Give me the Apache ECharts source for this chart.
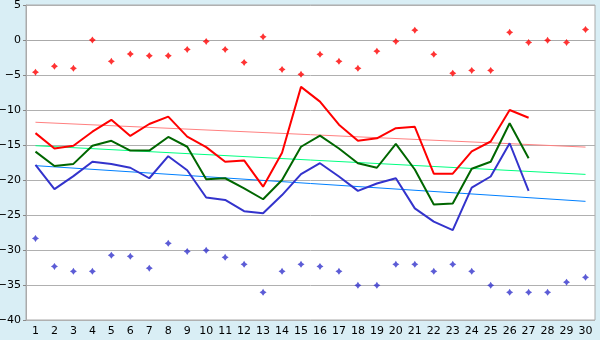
<!DOCTYPE html>
<html>
<head>
<meta charset="utf-8">
<script src="https://cdn.jsdelivr.net/npm/echarts@6/dist/echarts.min.js"></script>
<style>
  html, body { margin: 0; padding: 0; background: #d9eef5; }
  #chart { width: 600px; height: 340px; }
</style>
</head>
<body>
<div id="chart"></div>
<script>
// Day numbers along the x axis
var days = [];
for (var d = 1; d <= 30; d++) days.push(String(d));

// Daily curves (days 1-27)
var redLine = [-13.3, -15.5, -15.1, -13.1, -11.4, -13.7, -12.0, -10.95, -13.8, -15.3,
  -17.4, -17.2, -20.95, -16.1, -6.7, -8.8, -12.1, -14.4, -14.05, -12.6,
  -12.4, -19.1, -19.1, -15.9, -14.5, -10.0, -11.1];
var greenLine = [-15.95, -18.0, -17.7, -15.1, -14.4, -15.8, -15.8, -13.85, -15.25, -19.9,
  -19.75, -21.2, -22.75, -20.0, -15.25, -13.65, -15.5, -17.6, -18.25, -14.85,
  -18.5, -23.5, -23.35, -18.4, -17.4, -11.9, -16.9];
var blueLine = [-17.85, -21.3, -19.45, -17.4, -17.7, -18.25, -19.75, -16.6, -18.6, -22.5,
  -22.85, -24.45, -24.75, -22.15, -19.15, -17.6, -19.5, -21.55, -20.5, -19.75,
  -24.05, -25.95, -27.15, -21.1, -19.5, -14.75, -21.55];

// Scattered daily extremes (days 1-30)
var redPoints = [-4.6, -3.75, -4.05, 0.0, -3.05, -2.0, -2.25, -2.25, -1.35, -0.2,
  -1.35, -3.2, 0.45, -4.2, -4.9, -2.05, -3.05, -4.05, -1.6, -0.2,
  1.4, -2.05, -4.75, -4.35, -4.35, 1.1, -0.35, -0.05, -0.35, 1.5];
var bluePoints = [-28.35, -32.35, -33.05, -33.05, -30.75, -30.9, -32.6, -29.05, -30.2, -30.05,
  -31.05, -32.05, -36.05, -33.05, -32.05, -32.35, -33.05, -35.05, -35.05, -32.05,
  -32.05, -33.05, -32.05, -33.05, -35.05, -36.05, -36.05, -36.05, -34.6, -33.9];

// Trend lines: value at day 1 and at day 30
var redTrend = [-11.75, -15.3];
var greenTrend = [-15.1, -19.2];
var blueTrend = [-17.95, -23.05];

// Y axis ticks
var yMin = -40, yMax = 5, yStep = 5;

// Small four-pointed star used for the scattered points
var starMark = 'path://M3,0 L4.2,1.8 L6,3 L4.2,4.2 L3,6 L1.8,4.2 L0,3 L1.8,1.8 Z';

function trendData(ends) {
  var arr = new Array(days.length).fill(null);
  arr[0] = ends[0];
  arr[days.length - 1] = ends[1];
  return arr;
}

function lineSeries(data, color, width, z) {
  return {
    type: 'line', data: data, symbol: 'none', connectNulls: true, z: z,
    lineStyle: { color: color, width: width }, animation: false, silent: true
  };
}

function pointSeries(data, color) {
  return {
    type: 'scatter', data: data, symbol: starMark, symbolSize: 7, z: 5,
    itemStyle: { color: color }, animation: false, silent: true
  };
}

var chart = echarts.init(document.getElementById('chart'));
chart.setOption({
  backgroundColor: '#d9eef5',
  animation: false,
  grid: {
    left: 26, top: 5, width: 569, height: 315,
    outerBoundsMode: 'none', containLabel: false,
    show: true, backgroundColor: '#ffffff', borderColor: '#aaaaaa', borderWidth: 1
  },
  textStyle: { fontFamily: 'DejaVu Sans' },
  xAxis: {
    type: 'category', data: days, boundaryGap: true,
    axisLine: { lineStyle: { color: '#aaaaaa' } },
    axisTick: { alignWithLabel: true, length: 5, lineStyle: { color: '#888888' } },
    axisLabel: { color: '#000000', fontSize: 11, margin: 6, interval: 0 },
    splitLine: { show: false }
  },
  yAxis: {
    type: 'value', min: yMin, max: yMax, interval: yStep,
    axisLine: { show: true, lineStyle: { color: '#aaaaaa' } },
    axisTick: { show: true, length: 3, lineStyle: { color: '#888888' } },
    axisLabel: {
      color: '#000000', fontSize: 11, margin: 5,
      formatter: function (v) { return String(v).replace('-', '\u2212'); }
    },
    splitLine: { lineStyle: { color: '#b0b0b0', width: 1 } }
  },
  series: [
    lineSeries(trendData(redTrend), '#ff8080', 1, 2),
    lineSeries(trendData(greenTrend), '#00ff80', 1, 2),
    lineSeries(trendData(blueTrend), '#0080ff', 1, 2),
    lineSeries(redLine, '#ff0000', 2, 3),
    lineSeries(greenLine, '#006600', 2, 3),
    lineSeries(blueLine, '#3333cc', 2, 3),
    pointSeries(redPoints, '#ff0000'),
    pointSeries(bluePoints, '#3333cc')
  ]
});
</script>
</body>
</html>
